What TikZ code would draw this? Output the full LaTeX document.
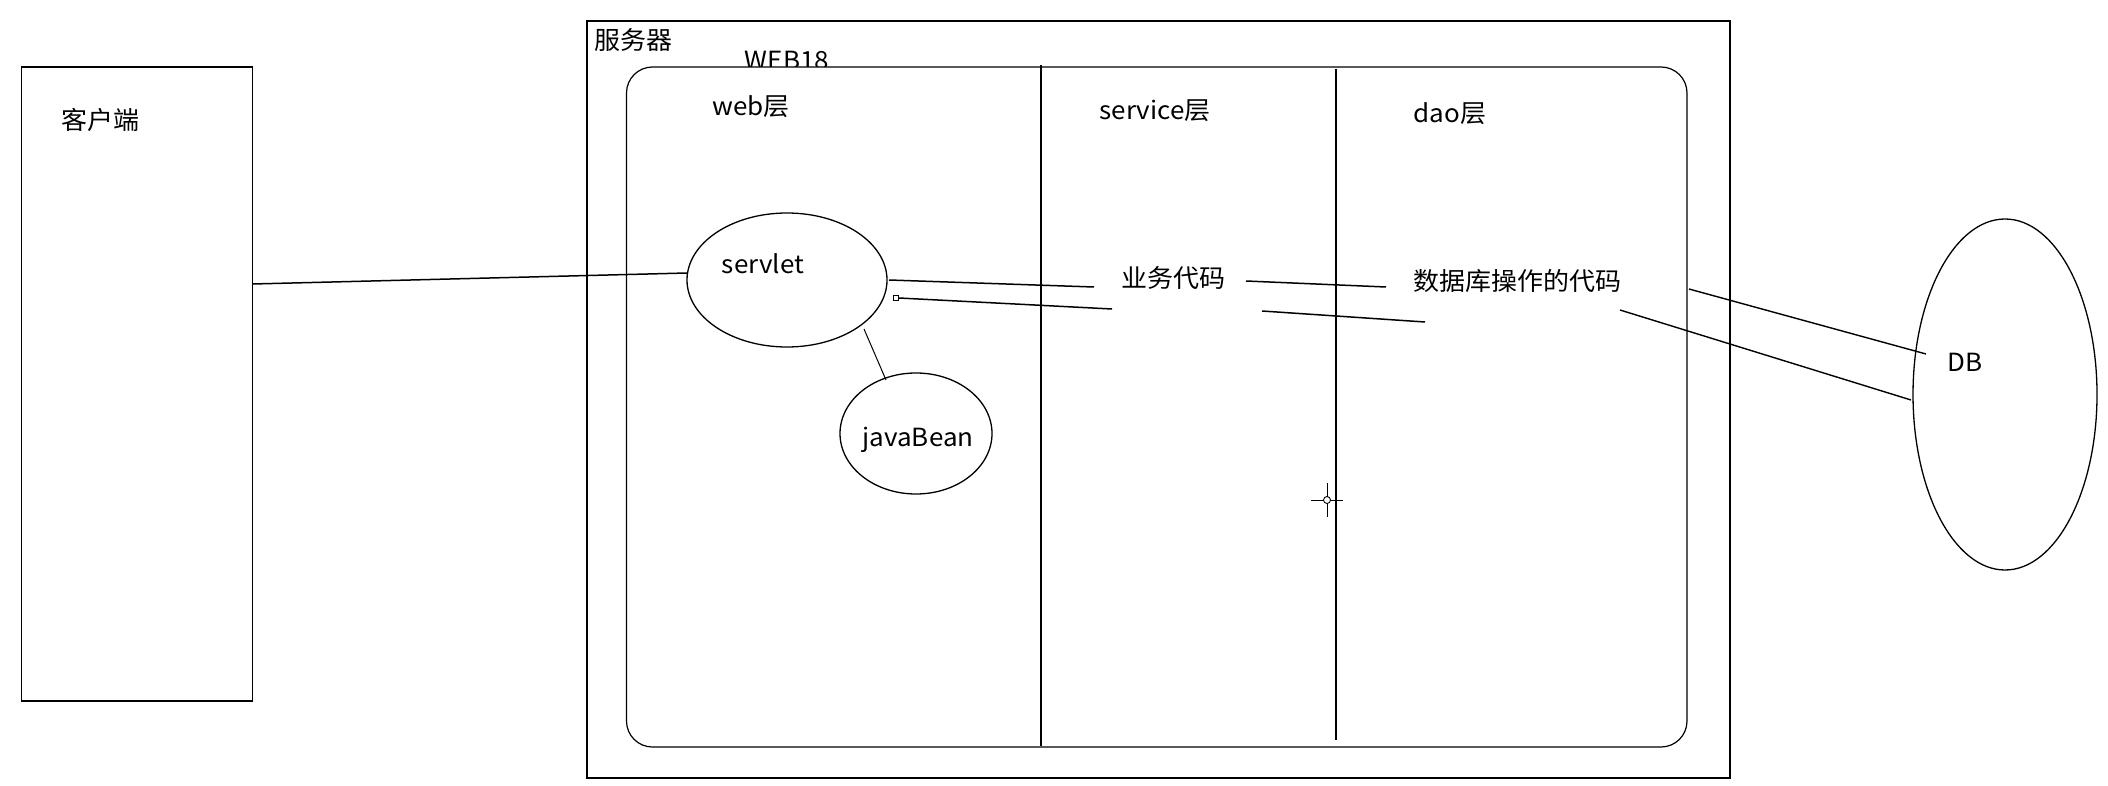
\documentclass[tikz,border=0pt]{standalone}
\usepackage{fontspec}
\setmainfont[FakeStretch=1.04]{Noto Sans CJK SC}
\usetikzlibrary{shapes.geometric}
\begin{document}
\begin{tikzpicture}[x=1pt,y=-1pt,
  thinbox/.style={draw,line width=1.2pt},
  conn/.style={line width=1.5pt},
  ell/.style={draw,ellipse,line width=1.3pt,inner sep=0pt},
  lbl/.style={font=\fontsize{25}{30}\selectfont,inner sep=0pt}]
\useasboundingbox[fill=white] (0,0) rectangle (2108,786);
% client
\draw[thinbox] (21.5,67) rectangle (252.5,701);
\node[lbl] (client) at (100,120) {客户端};
% server
\draw[thinbox] (587,21) rectangle (1730,778);
\node[lbl] (server) at (633,40) {服务器};
\node[lbl] (web18) at (787,61) {WEB18};
\draw[thinbox,rounded corners=26pt,fill=white] (626.5,67) rectangle (1687,747);
\draw[line width=1.2pt] (1041,65) -- (1041,746);
\draw[line width=1.2pt] (1336,69) -- (1336,740);
\node[lbl] (web) at (751,107) {web层};
\node[lbl] (service) at (1155,111) {service层};
\node[lbl] (dao) at (1450,114) {dao层};
% servlet & javaBean
\node[ell,minimum width=200pt,minimum height=134pt] (servlet) at (787,280) {};
\node[lbl] (servlettxt) at (763,264) {servlet};
\node[ell,minimum width=152pt,minimum height=121pt] (bean) at (916,433.5) {};
\node[lbl] (beantxt) at (918,440) {javaBean};
\node[lbl] (biz) at (1173,278) {业务代码};
\node[lbl] (dbcode) at (1517,281) {数据库操作的代码};
% DB
\node[ell,minimum width=184pt,minimum height=351pt] (db) at (2005,394.5) {};
\node[lbl] (dbtxt) at (1965,362) {DB};
% connectors
\coordinate (c1) at (252.5,284);
\coordinate (s1) at (687,273);
\draw[conn] (c1) -- (s1);
\coordinate (s3) at (864,329);
\coordinate (b3) at (886,380);
\draw[line width=1pt] (s3) -- (b3);
\coordinate (s2) at (889,280);
\coordinate (b1) at (1094,287);
\coordinate (b2) at (1246,281);
\coordinate (d1) at (1386,287);
\draw[conn] (s2) -- (b1);
\draw[conn] (b2) -- (d1);
\node[draw,line width=0.8pt,minimum width=5pt,minimum height=5pt,inner sep=0pt] (sq) at (896,298) {};
\coordinate (l1) at (1112,309);
\coordinate (l2) at (1262,311);
\coordinate (l3) at (1425,322);
\draw[conn] (sq.east) -- (l1);
\draw[conn] (l2) -- (l3);
\coordinate (e1) at (1689,289);
\coordinate (e2) at (1620,310);
\coordinate (f1) at (1926,354);
\coordinate (f2) at (1911,400);
\draw[line width=1.4pt] (e1) -- (f1);
\draw[line width=1.4pt] (e2) -- (f2);
% cursor mark
\draw[line width=0.9pt] (1327,483) -- (1327,517);
\draw[line width=0.9pt] (1311,500) -- (1343,500);
\draw[line width=0.9pt,fill=white] (1327,500) circle (3.5pt);
\end{tikzpicture}
\end{document}
